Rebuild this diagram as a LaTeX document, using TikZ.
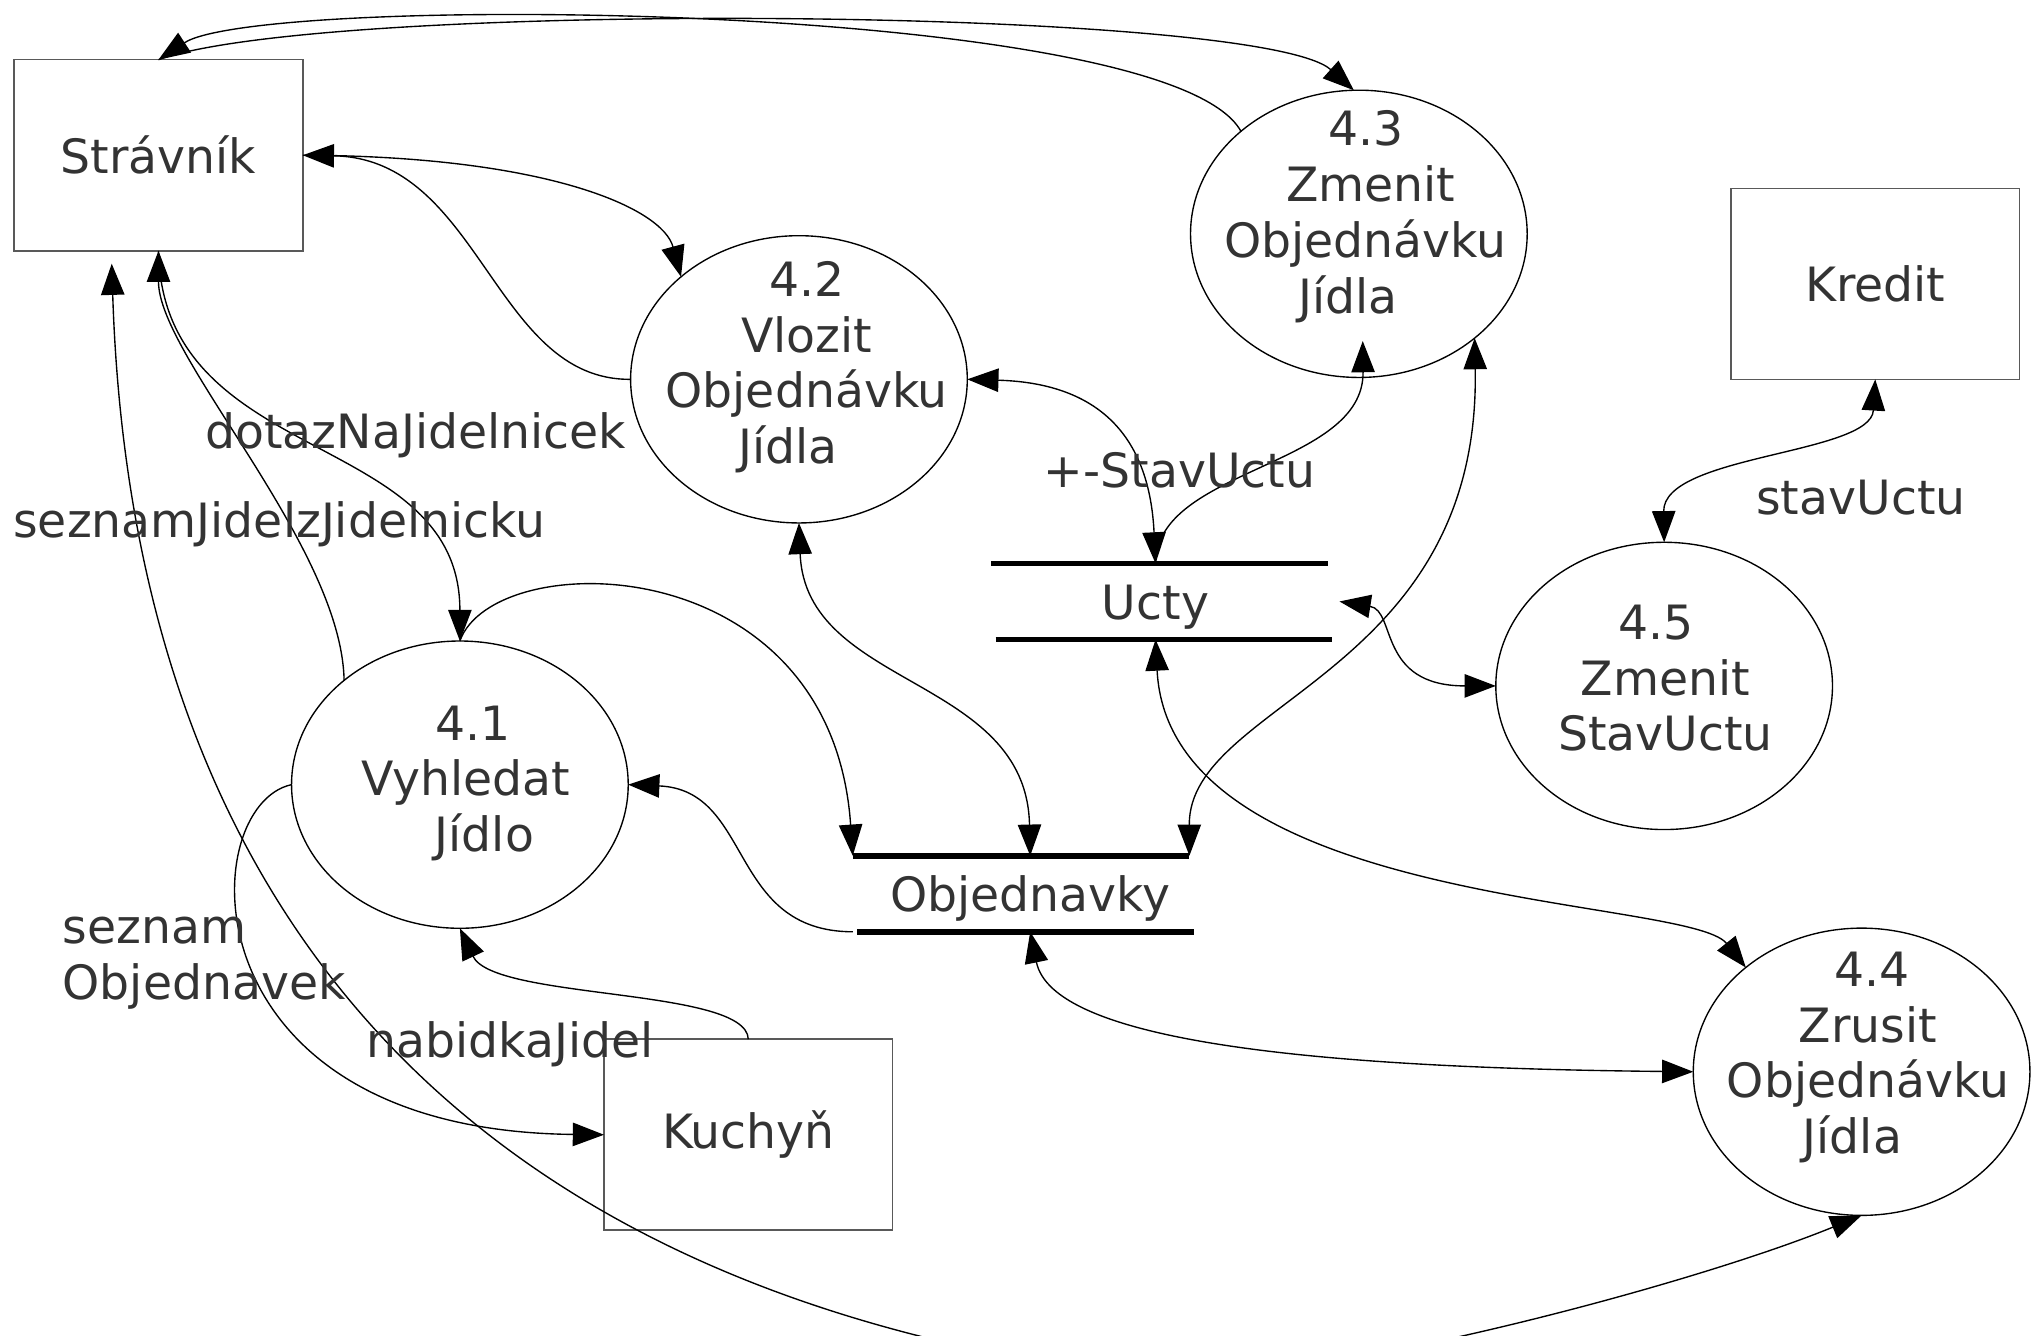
\documentclass[tikz,border=0pt]{standalone}
\usepackage{fontspec}
\setmainfont{DejaVu Sans}
\usetikzlibrary{arrows.meta,shapes.geometric}

\definecolor{txtgray}{RGB}{51,51,51}

\tikzset{
	ent/.style = {rectangle, draw = black!65, line width = 0.35pt, minimum width = 2.22cm, minimum height = 1.47cm, inner sep = 0pt, outer sep = 0pt, text = txtgray},
	proc/.style = {ellipse, draw, line width = 0.3pt, minimum width = 2.59cm, minimum height = 2.21cm, inner sep = 0pt, outer sep = 0pt},
	ptext/.style = {align = center, anchor = base, inner sep = 0pt, text = txtgray},
	store/.style = {minimum width = 2.59cm, minimum height = 0.585cm, inner sep = 0pt, outer sep = 0pt, text height = 0.3cm, text depth = 0.02cm, text = txtgray},
	storeline/.style = {line width = 1.25pt},
	lbl/.style = {anchor = base, inner sep = 0pt, text = txtgray},
	flow/.style = {line width = 0.3pt}
}

\begin{document}
\begin{tikzpicture}[x = 0.01cm, y = -0.01cm, font = \fontsize{10.35}{12.2}\selectfont, > = {Triangle[length = 2.4mm, width = 1.8mm]}]
	\useasboundingbox (0, 0) rectangle (1568, 1028);
	\clip (0, 0) rectangle (1568, 1028);
	
	\node[ent] (str) at (122, 119.5) {Strávník};
	\node[ent] (kred) at (1443.5, 218.5) {Kredit};
	\node[ent] (kuch) at (576, 873.5) {Kuchyň};
	
	\node[proc] (p41) at (354, 604) {};
	\node[proc] (p42) at (615, 292) {};
	\node[proc] (p43) at (1046, 180) {};
	\node[proc] (p44) at (1433, 825) {};
	\node[proc] (p45) at (1281, 528) {};
	
	\node[ptext] (t41) at (358.4, 655.6) {\hspace*{0.12cm}4.1\\Vyhledat\\\hspace*{0.29cm}Jídlo};
	\node[ptext] (t42) at (621, 356.8) {4.2\\Vlozit\hspace*{0.21cm}\\Objednávku\\Jídla\hspace*{0.29cm}};
	\node[ptext] (t43) at (1051.2, 241) {4.3\\\hspace*{0.08cm}Zmenit\\Objednávku\\Jídla\hspace*{0.27cm}};
	\node[ptext] (t44) at (1437.9, 888) {\hspace*{0.06cm}4.4\\Zrusit\hspace*{0.15cm}\\Objednávku\\Jídla\hspace*{0.24cm}};
	\node[ptext] (t45) at (1282, 578) {4.5\hspace*{0.15cm}\\Zmenit\hspace*{0.1cm}\\StavUctu};
	
	\node[store] (ucty) at (894.5, 463) {Ucty\hspace*{0.1cm}};
	\node[store] (obj) at (786, 688) {\hspace*{0.14cm}Objednavky};
	\draw[storeline] ([xshift = -0.02cm]ucty.north west) -- ([xshift = -0.02cm]ucty.north east);
	\draw[storeline] ([xshift = 0.015cm]ucty.south west) -- ([xshift = 0.015cm]ucty.south east);
	\draw[storeline] (obj.north west) -- (obj.north east);
	\draw[storeline] ([xshift = 0.035cm]obj.south west) -- ([xshift = 0.035cm]obj.south east);
	
	\coordinate (strIn) at (86, 203);
	\coordinate (dip) at (880, 1060);
	
	\draw[flow, ->] (p43.139) .. controls (900, 0) and (200, -5) .. (str.north);
	\draw[flow, ->] (str.north) .. controls (250, 0) and (970, 5) .. (p43.92);
	\draw[flow, ->] (p42.west) .. controls (380, 293) and (370, 122) .. (str.east);
	\draw[flow, ->] (str.east) .. controls (420, 120) and (510, 160) .. (p42.139);
	\draw[flow, ->] (p41.138) .. controls (263, 420) and (122, 274) .. (str.south);
	\draw[flow, ->] (str.south) .. controls (125, 360) and (354, 330) .. (p41.north);
	\draw[flow, <->] (strIn) .. controls (100, 640) and (300, 990) .. (dip) .. controls (1000, 1070) and (1300, 990) .. (p44.south);
	\draw[flow, ->] (p41.west) .. controls (150, 620) and (140, 870) .. (kuch.west);
	\draw[flow, ->] (kuch.north) .. controls (575, 760) and (380, 770) .. (p41.south);
	\draw[flow, ->] (p41.north) .. controls (380, 420) and (640, 420) .. (obj.north west);
	\draw[flow, ->] (obj.south west) .. controls (560, 717) and (580, 608) .. (p41.east);
	\draw[flow, <->] (p42.south) .. controls (620, 530) and (790, 520) .. ([xshift = 0.07cm]obj.north);
	\draw[flow, <->] (p42.east) .. controls (850, 295) and (885, 340) .. ([xshift = -0.05cm]ucty.north);
	\draw[flow, ->] ([xshift = -0.05cm]ucty.north) .. controls (890, 360) and (1050, 360) .. ([xshift = 0.03cm, yshift = 0.28cm]p43.south);
	\draw[flow, <->] (obj.north east) .. controls (915, 540) and (1140, 520) .. (p43.-42);
	\draw[flow, <->] ([xshift = -0.05cm]ucty.south) .. controls (900, 700) and (1300, 690) .. (p44.138);
	\draw[flow, <->] ([xshift = 0.07cm]ucty.east) .. controls (1075, 470) and (1060, 528) .. (p45.west);
	\draw[flow, <->] (kred.south) .. controls (1440, 350) and (1280, 350) .. (p45.north);
	\draw[flow, <->] ([xshift = 0.07cm]obj.south) .. controls (810, 800) and (1000, 822) .. (p44.west);
	
	\node[lbl] (lDotaz) at (320, 345) {dotazNaJidelnicek};
	\node[lbl] (lSezJid) at (215, 414) {seznamJidelzJidelnicku};
	\node[lbl] (lStav) at (908, 375) {+-StavUctu};
	\node[lbl] (lStavU) at (1432.5, 396) {stavUctu};
	\node[lbl, anchor = base west, align = left] (lSezObj) at (47.5, 769) {seznam\\Objednavek};
	\node[lbl] (lNab) at (392.5, 814) {nabidkaJidel};
\end{tikzpicture}
\end{document}
